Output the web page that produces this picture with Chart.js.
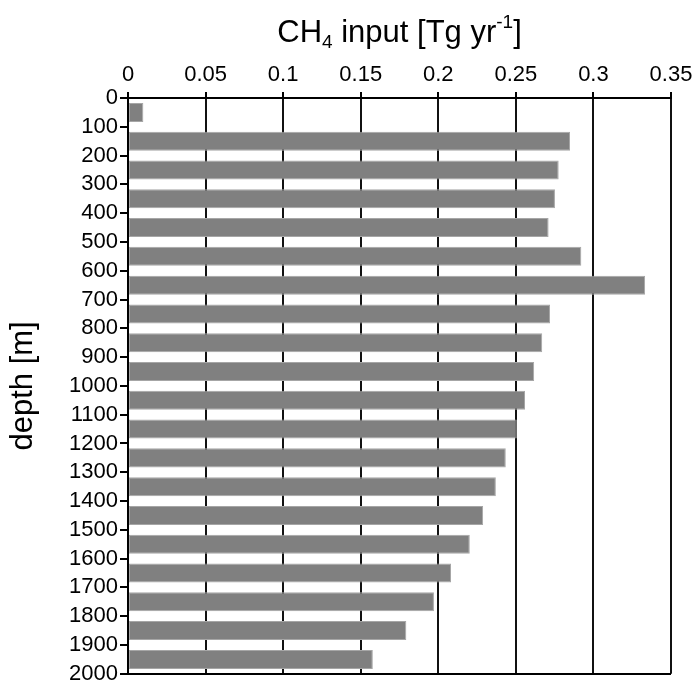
<!DOCTYPE html>
<html>
<head>
<meta charset="utf-8">
<script src="https://cdn.jsdelivr.net/npm/chart.js@4/dist/chart.umd.min.js"></script>
<style>
  html, body { margin: 0; padding: 0; background: #fff; }
  #wrap { width: 697px; height: 689px; }
</style>
</head>
<body>
<div id="wrap"><canvas id="ch4Chart"></canvas></div>
<script>
// depth bins (m), bar centred in each 100 m layer
const depthMid = [50, 150, 250, 350, 450, 550, 650, 750, 850, 950,
                  1050, 1150, 1250, 1350, 1450, 1550, 1650, 1750, 1850, 1950];
// CH4 input per layer (Tg/yr)
const ch4Input = [0.0099, 0.2849, 0.2776, 0.2752, 0.2711, 0.2922, 0.3333, 0.2720, 0.2670, 0.2618,
                  0.2559, 0.2506, 0.2435, 0.2371, 0.2289, 0.2203, 0.2082, 0.1972, 0.1794, 0.1578];
const xTicks = [0, 0.05, 0.1, 0.15, 0.2, 0.25, 0.3, 0.35];
const depthTicks = [0, 100, 200, 300, 400, 500, 600, 700, 800, 900, 1000,
                    1100, 1200, 1300, 1400, 1500, 1600, 1700, 1800, 1900, 2000];

const FONT = 'Arial, "Liberation Sans", sans-serif';

// top title with subscript / superscript
const topTitle = {
    id: 'topTitle',
    afterDraw(chart) {
        const c = chart.ctx;
        const area = chart.chartArea;
        const big = 'normal 31px ' + FONT;
        const small = 'normal 19px ' + FONT;
        const parts = [
            { t: 'CH', f: big, dy: 0 },
            { t: '4', f: small, dy: 6 },
            { t: ' input [Tg yr', f: big, dy: 0 },
            { t: '-1', f: small, dy: -14 },
            { t: ']', f: big, dy: 0 }
        ];
        c.save();
        c.fillStyle = '#000';
        c.textBaseline = 'alphabetic';
        let w = 0;
        parts.forEach(p => { c.font = p.f; p.w = c.measureText(p.t).width; w += p.w; });
        let x = (area.left + area.right) / 2 - w / 2;
        const base = 42;
        parts.forEach(p => {
            c.font = p.f;
            c.fillText(p.t, x, base + p.dy);
            x += p.w;
        });
        c.restore();
    }
};

const ctx = document.getElementById('ch4Chart').getContext('2d');
const ch4Chart = new Chart(ctx, {
    type: 'bar',
    data: {
        datasets: [{
            data: depthMid.map((d, i) => ({ x: ch4Input[i], y: d })),
            backgroundColor: '#808080',
            borderColor: '#a6a6a6',
            borderWidth: 1,
            borderSkipped: false,
            barPercentage: 0.66,
            categoryPercentage: 1
        }]
    },
    options: {
        indexAxis: 'y',
        responsive: true,
        maintainAspectRatio: false,
        animation: false,
        layout: { padding: { left: 0, top: 0, right: 26, bottom: 11 } },
        plugins: {
            legend: { display: false },
            tooltip: { enabled: false }
        },
        scales: {
            x: {
                type: 'linear',
                position: 'top',
                offset: false,
                min: 0,
                max: 0.35,
                afterBuildTicks: s => { s.ticks = xTicks.map(v => ({ value: v })); },
                afterFit: s => { s.height = 98; },
                border: { color: '#000', width: 2 },
                grid: { offset: false, color: '#111', lineWidth: 2, tickLength: 6, tickColor: '#000' },
                ticks: {
                    color: '#000',
                    padding: 4,
                    font: { family: FONT, size: 22 },
                    callback: v => String(+v.toFixed(2))
                }
            },
            y: {
                type: 'linear',
                reverse: true,
                offset: false,
                min: 0,
                max: 2000,
                afterBuildTicks: s => { s.ticks = depthTicks.map(v => ({ value: v })); },
                afterFit: s => { s.width = 128; },
                border: { color: '#000', width: 2 },
                grid: {
                    offset: false,
                    color: c => (c.tick && c.tick.value === 2000) ? '#000' : 'rgba(0,0,0,0)',
                    lineWidth: 2,
                    tickLength: 8,
                    tickColor: '#000'
                },
                ticks: {
                    color: '#000',
                    padding: 2,
                    font: { family: FONT, size: 22 },
                    autoSkip: false,
                    callback: v => String(v)
                },
                title: {
                    display: true,
                    text: 'depth [m]',
                    color: '#000',
                    font: { family: FONT, size: 31 },
                    padding: { top: 5, bottom: 0 }
                }
            }
        }
    },
    plugins: [topTitle]
});
</script>
</body>
</html>
